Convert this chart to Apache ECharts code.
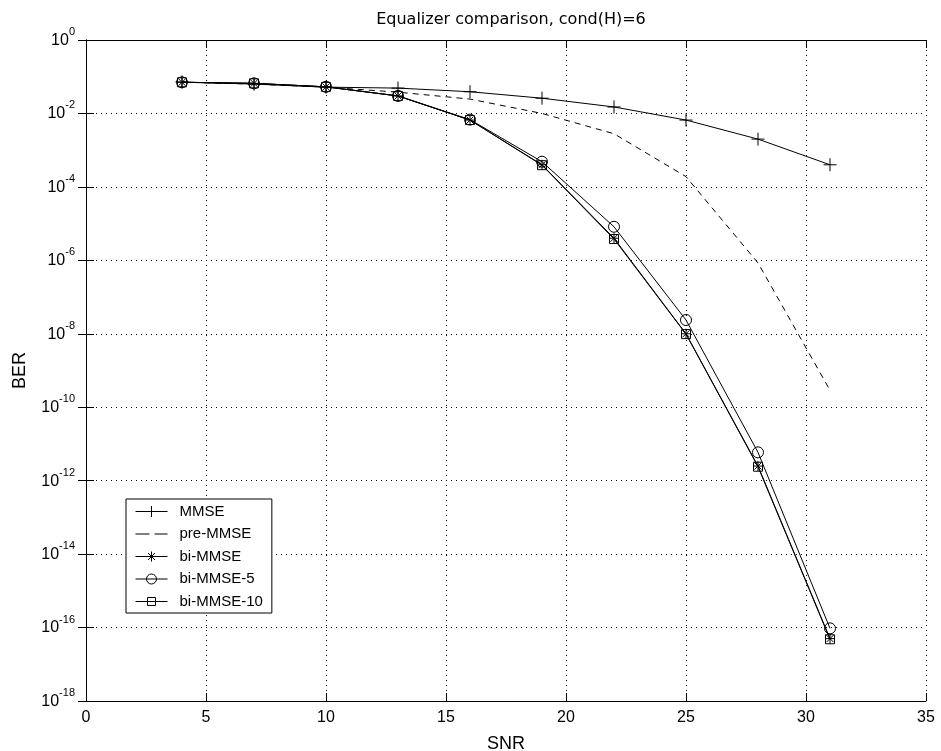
<!DOCTYPE html>
<html>
<head>
<meta charset="utf-8">
<script src="https://cdn.jsdelivr.net/npm/echarts@6/dist/echarts.min.js"></script>
<style>
html,body{margin:0;padding:0;background:#fff;}
#chart{width:941px;height:751px;}
</style>
</head>
<body>
<div id="chart"></div>
<script>
var snr = [4, 7, 10, 13, 16, 19, 22, 25, 28, 31];
var berMMSE = [0.072, 0.063, 0.052, 0.049, 0.039, 0.026, 0.015, 0.0066, 0.0020, 0.0004];
var berPreMMSE = [0.071, 0.063, 0.052, 0.038, 0.0246, 0.010, 0.0028, 1.9e-4, 8.5e-7, 2.9e-10];
var berBiMMSE = [0.0705, 0.066, 0.053, 0.030, 0.0066, 4.0e-4, 4.0e-6, 1.0e-8, 2.5e-12, 5.0e-17];
var berBiMMSE5 = [0.0705, 0.066, 0.053, 0.030, 0.0068, 4.85e-4, 8.2e-6, 2.37e-8, 5.9e-12, 9.5e-17];
var berBiMMSE10 = [0.0705, 0.066, 0.053, 0.030, 0.0066, 3.9e-4, 3.8e-6, 9.8e-9, 2.4e-12, 4.8e-17];
var seriesNames = ['MMSE', 'pre-MMSE', 'bi-MMSE', 'bi-MMSE-5', 'bi-MMSE-10'];
var xTicks = [0, 5, 10, 15, 20, 25, 30, 35];

function pairs(ys) { return snr.map(function (x, i) { return [x, ys[i]]; }); }

var FONT = 'Liberation Sans, Arial, Helvetica, sans-serif';
var PLUS = 'path://M0,5L10,5M5,0L5,10';
var STAR = 'path://M0,5L10,5M5,0L5,10M1.5,1.5L8.5,8.5M1.5,8.5L8.5,1.5';

var BOX = 'M0,0L0,0M32,14L32,14';
var legendIcons = [
  'path://' + BOX + 'M0,7L32,7M16,1.5L16,12.5',
  'path://' + BOX + 'M0,7L14,7M19,7L32,7',
  'path://' + BOX + 'M0,7L32,7M16,2L16,12M11,7L21,7M12.5,3.5L19.5,10.5M12.5,10.5L19.5,3.5',
  'path://' + BOX + 'M0,7L32,7M11,7A5,5,0,1,1,21,7A5,5,0,1,1,11,7',
  'path://' + BOX + 'M0,7L32,7M12,3L20,3L20,11L12,11Z'
];

function mk(name, data, symbol, size, dashed) {
  return {
    name: name, type: 'line', data: pairs(data),
    symbol: symbol, symbolSize: size, showSymbol: symbol !== 'none',
    lineStyle: {color: '#000', width: 1, type: dashed ? [6, 5] : 'solid'},
    itemStyle: {color: 'transparent', borderColor: '#000', borderWidth: 1},
    emphasis: {disabled: true}, animation: false, z: 3
  };
}

var chart = echarts.init(document.getElementById('chart'), null, {renderer: 'canvas'});
var supRich = {
  b: {fontSize: 16, fontFamily: FONT, color: '#000', lineHeight: 22, verticalAlign: 'bottom'},
  s: {fontSize: 11, fontFamily: FONT, color: '#000', lineHeight: 11, verticalAlign: 'top'}
};
chart.setOption({
  backgroundColor: '#fff',
  animation: false,
  title: {
    text: 'Equalizer comparison, cond(H)=6', left: 506, top: 7, textAlign: 'center',
    textStyle: {fontFamily: 'DejaVu Sans, sans-serif', fontSize: 16, fontWeight: 'normal', color: '#000'}
  },
  legend: {
    orient: 'vertical', left: 126, top: 499,
    data: seriesNames.map(function (n, i) { return {name: n, icon: legendIcons[i]}; }),
    backgroundColor: '#fff', borderColor: '#000', borderWidth: 1, borderRadius: 0,
    padding: [5, 9, 4, 9], itemGap: 7.5, itemWidth: 32, itemHeight: 14,
    itemStyle: {color: 'transparent', borderColor: '#000', borderWidth: 1},
    textStyle: {fontFamily: FONT, fontSize: 15, lineHeight: 14, color: '#000', padding: [0, 0, 0, 7]},
    selectedMode: false
  },
  grid: {left: 86, right: 15, top: 40, bottom: 50, containLabel: false, outerBoundsMode: 'none'},
  xAxis: [{
    type: 'value', min: xTicks[0], max: xTicks[xTicks.length - 1], interval: 5,
    name: 'SNR', nameLocation: 'middle', nameGap: 34,
    nameTextStyle: {fontFamily: FONT, fontSize: 18, color: '#000'},
    axisLine: {lineStyle: {color: '#000', width: 1}},
    axisTick: {inside: true, length: 8, lineStyle: {color: '#000'}},
    axisLabel: {fontFamily: FONT, fontSize: 16, color: '#000', margin: 9},
    splitLine: {show: true, lineStyle: {color: '#000', width: 1, type: [1, 4]}}
  }, {
    type: 'value', position: 'top', min: xTicks[0], max: xTicks[xTicks.length - 1], interval: 5,
    axisLine: {show: true, lineStyle: {color: '#000', width: 1}},
    axisTick: {inside: true, length: 8, lineStyle: {color: '#000'}},
    axisLabel: {show: false}, splitLine: {show: false}
  }],
  yAxis: [{
    type: 'log', logBase: 10, min: 1e-18, max: 1, interval: 2,
    name: 'BER', nameLocation: 'middle', nameGap: 57, nameRotate: 90,
    nameTextStyle: {fontFamily: FONT, fontSize: 18, color: '#000'},
    axisLine: {show: true, lineStyle: {color: '#000', width: 1}},
    axisTick: {inside: true, length: 8, lineStyle: {color: '#000'}},
    minorTick: {show: false},
    axisLabel: {
      margin: 11, rich: supRich, padding: [0, 0, 5, 0],
      formatter: function (v) {
        var e = Math.round(Math.log10(v));
        return '{b|10}{s|' + (e === 0 ? '0' : '-' + (-e)) + '}';
      }
    },
    splitLine: {show: true, lineStyle: {color: '#000', width: 1, type: [1, 4]}}
  }, {
    type: 'log', logBase: 10, min: 1e-18, max: 1, interval: 2, position: 'right',
    axisLine: {show: true, lineStyle: {color: '#000', width: 1}},
    axisTick: {inside: true, length: 8, lineStyle: {color: '#000'}},
    axisLabel: {show: false}, splitLine: {show: false}
  }],
  series: [
    mk(seriesNames[0], berMMSE, PLUS, 13, false),
    mk(seriesNames[1], berPreMMSE, 'none', 0, true),
    mk(seriesNames[2], berBiMMSE, STAR, 10, false),
    mk(seriesNames[3], berBiMMSE5, 'circle', 11, false),
    mk(seriesNames[4], berBiMMSE10, 'rect', 9, false)
  ]
});
</script>
</body>
</html>
